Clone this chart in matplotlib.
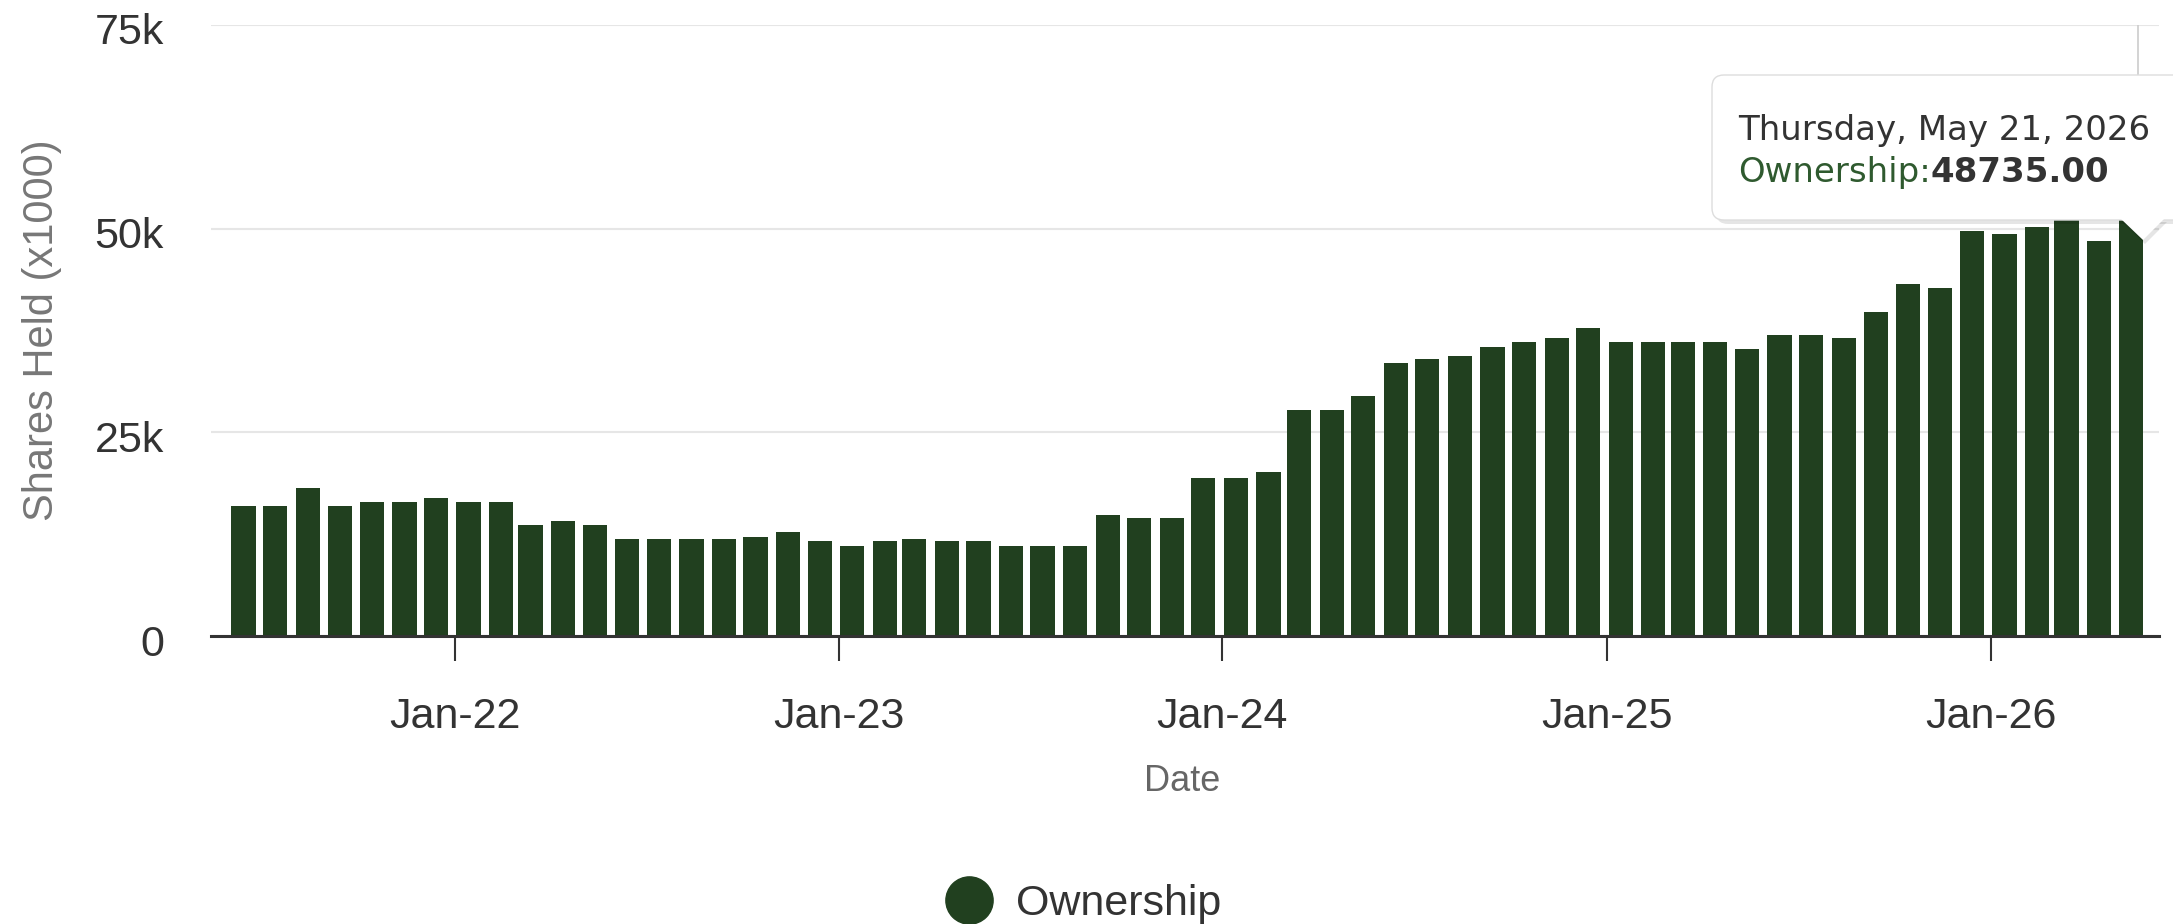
import pandas as pd
import matplotlib
matplotlib.use('Agg')
import matplotlib.pyplot as plt
import matplotlib.dates as mdates
import matplotlib.transforms as mtransforms
from matplotlib.patches import FancyBboxPatch, Polygon
from matplotlib.lines import Line2D

# monthly holdings, shares held (x1000)
dates = pd.date_range('2021-06-01', periods=60, freq='MS') + pd.Timedelta(days=13)
ownership = [16000, 16000, 18200, 16000, 16500, 16500, 17000, 16500, 16500,
             13600, 14100, 13600,
             11900, 11900, 11900, 11900, 12200, 12800, 11600, 11100, 11600,
             11900, 11600, 11600, 11100, 11100, 11100,
             14800, 14500, 14500, 19400, 19400, 20100, 27700, 27700, 29400,
             33500, 34000, 34400, 35500, 36100, 36600, 37800,
             36100, 36100, 36100, 36100, 35200, 36900, 36900, 36600,
             39800, 43200, 42700, 49700, 49300, 50200, 52000, 48500, 53000]
yticks = [0, 25000, 50000, 75000]
ytick_labels = ['0', '25k', '50k', '75k']
hover_date = pd.Timestamp('2026-05-21')
tip_date = 'Thursday, May 21, 2026'
tip_value = '48735.00'

bar_color = '#21401f'
plt.rcParams['font.family'] = ['Liberation Sans', 'DejaVu Sans']

fig = plt.figure(figsize=(21.73, 9.24), dpi=100)
ax = fig.add_axes([211/2173, 288/924, 1948/2173, 611/924])

ax.bar(dates, ownership, width=23, color=bar_color, zorder=3)
ax.axvline(hover_date, color='#cccccc', lw=1.2, zorder=2)

ax.set_ylim(0, 75000)
ax.set_xlim(pd.Timestamp('2021-05-14'), pd.Timestamp('2026-06-10'))
ax.set_yticks(yticks)
ax.set_yticklabels(ytick_labels)
ax.grid(axis='y', color='#e6e6e6', lw=1.5, zorder=0)
ax.set_axisbelow(True)

ax.xaxis.set_major_locator(mdates.YearLocator())
ax.xaxis.set_major_formatter(mdates.DateFormatter('%b-%y'))

for s in ['top', 'right', 'left']:
    ax.spines[s].set_visible(False)
ax.spines['bottom'].set_color('#333333')
ax.spines['bottom'].set_linewidth(2.2)
ax.spines['bottom'].set_zorder(4)

ax.tick_params(axis='x', length=18, width=1.5, color='#333333',
               labelsize=31, labelcolor='#333333', pad=26)
ax.tick_params(axis='y', length=0, labelsize=31, labelcolor='#333333', pad=34)
shift = mtransforms.ScaledTranslation(0, -0.04, fig.dpi_scale_trans)
for lbl in ax.get_yticklabels():
    lbl.set_transform(lbl.get_transform() + shift)

ax.set_xlabel('Date', fontsize=26, color='#666666')
ax.xaxis.label.set_va('center')
ax.xaxis.set_label_coords(0.4985, -0.238)
ax.set_ylabel('Shares Held (x1000)', fontsize=30, color='#777777')
ax.yaxis.label.set_va('center')
ax.yaxis.set_label_coords(-0.087, 0.5)

handle = Line2D([], [], marker='o', ls='none', color=bar_color, markersize=34)
fig.legend([handle], ['Ownership'], loc='center', bbox_to_anchor=(0.494, 0.022),
           frameon=False, fontsize=31, handletextpad=0.1, labelcolor='#333333')

# tooltip
tr = fig.dpi_scale_trans
shadow = FancyBboxPatch((17.16, 7.00), 5.2, 1.46, boxstyle='round,pad=0,rounding_size=0.12',
                        transform=tr, fc='black', ec='none', alpha=0.10, zorder=5)
fig.patches.append(shadow)
box = FancyBboxPatch((17.12, 7.04), 5.2, 1.45, boxstyle='round,pad=0,rounding_size=0.12',
                     transform=tr, fc='white', ec='#dddddd', lw=1, zorder=6)
fig.patches.append(box)
tri_sh = Polygon([(21.22, 7.02), (21.45, 6.80), (21.67, 7.02)], closed=True,
                 transform=tr, fc='black', ec='none', alpha=0.10, zorder=5)
fig.patches.append(tri_sh)
tri = Polygon([(21.20, 7.06), (21.43, 6.84), (21.65, 7.06)], closed=True,
              transform=tr, fc='white', ec='none', zorder=7)
fig.patches.append(tri)

fig.text(1738/2173, 784/924, tip_date, fontsize=24.5, color='#333333',
         family='DejaVu Sans', va='baseline', zorder=8)
t1 = fig.text(1738/2173, 742/924, 'Ownership:', fontsize=24.5, color='#2f5a2f',
              family='DejaVu Sans', va='baseline', zorder=8)
fig.add_artist(plt.Annotation(tip_value, xy=(1, 0), xycoords=t1, va='bottom',
                              fontsize=24.5, fontweight='bold', color='#333333',
                              family='DejaVu Sans', zorder=8))

fig.savefig('out.png', dpi=100)
plt.close(fig)
